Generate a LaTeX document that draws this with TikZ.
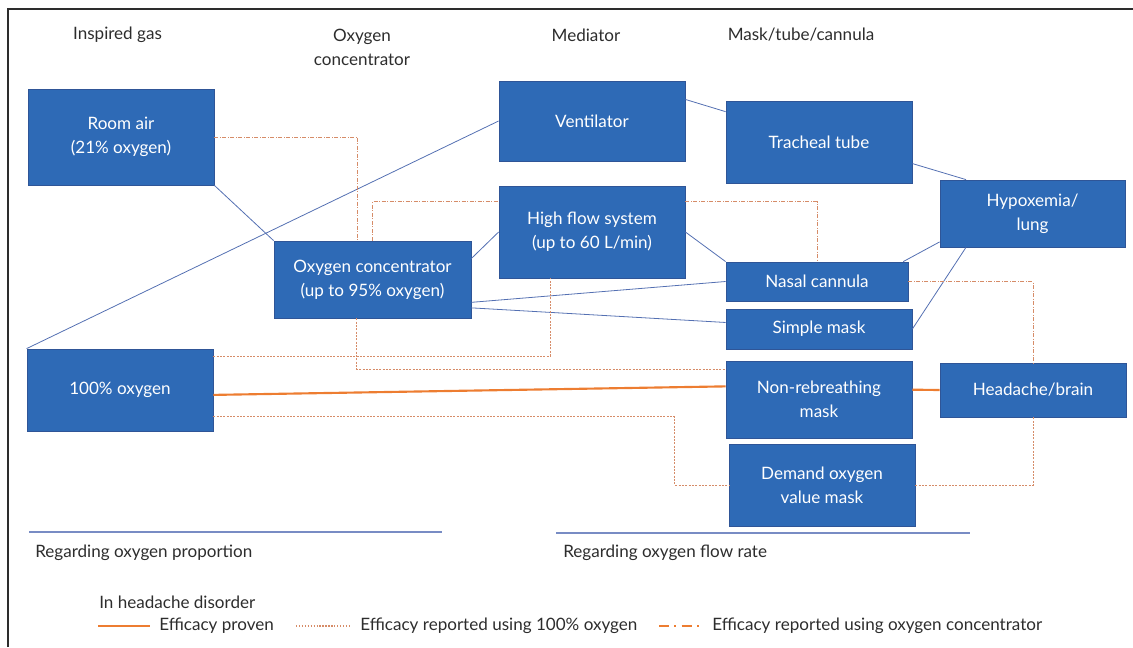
\documentclass[tikz,border=0pt]{standalone}
\usepackage{fontspec}
\setmainfont{Lato}
\definecolor{boxblue}{RGB}{46,106,182}
\definecolor{boxedge}{RGB}{47,85,151}
\definecolor{linkblue}{RGB}{84,112,178}
\definecolor{proven}{RGB}{237,125,49}
\definecolor{reported}{RGB}{214,140,104}
\definecolor{headgray}{RGB}{45,45,45}
\definecolor{rulegray}{RGB}{120,140,196}

\begin{document}
\begin{tikzpicture}[x=0.75pt, y=-0.75pt,
	box/.style={fill=boxblue, draw=boxedge, line width=0.6pt, text=white, align=center, inner sep=2pt, font=\fontsize{12.8}{18}\selectfont},
	head/.style={text=headgray, align=center, inner sep=0pt, font=\fontsize{12.8}{18}\selectfont},
	link/.style={draw=linkblue, line width=0.6pt},
	provenline/.style={draw=proven, line width=1.6pt},
	concline/.style={draw=reported, line width=0.6pt, dash pattern=on 3pt off 1.2pt on 0.6pt off 1.2pt},
	pureline/.style={draw=reported, line width=0.6pt, dash pattern=on 1.5pt off 1pt}]
{
	\useasboundingbox (0,0) rectangle (1133,647);
	\draw[headgray, line width=0.8pt] (8,647) -- (8,9) -- (1133,9);

	\node[head] (hgas) at (117.5,35) {Inspired gas};
	\node[head] (hconc) at (362,47) {Oxygen\\concentrator};
	\node[head] (hmed) at (586,35) {Mediator};
	\node[head] (hmask) at (801,35) {Mask/tube/cannula};

	\node[box, minimum width=139.5pt, minimum height=72pt] (roomair) at (121,137) {Room air\\(21\% oxygen)};
	\node[box, minimum width=139.5pt, minimum height=61.5pt] (oxy100) at (120,390) {100\% oxygen};
	\node[box, minimum width=147.75pt, minimum height=57.75pt] (oxyconc) at (372.5,279.5) {Oxygen concentrator\\(up to 95\% oxygen)};
	\node[box, minimum width=139.5pt, minimum height=60pt] (vent) at (592,121) {Ventilator};
	\node[box, minimum width=139.5pt, minimum height=69pt] (highflow) at (592,232) {High flow system\\(up to 60 L/min)};
	\node[box, minimum width=139.5pt, minimum height=61.5pt] (trach) at (819,142) {Tracheal tube};
	\node[box, minimum width=138.75pt, minimum height=50.25pt] (hypox) at (1032.5,213.5) {Hypoxemia/\\lung};
	\node[box, minimum width=136.5pt, minimum height=29.25pt] (nasal) at (817,281.5) {Nasal cannula};
	\node[box, minimum width=139.5pt, minimum height=30pt] (simple) at (819,329) {Simple mask};
	\node[box, minimum width=139.5pt, minimum height=57.75pt] (nonreb) at (819,399.5) {Non-rebreathing\\mask};
	\node[box, minimum width=139.5pt, minimum height=40.5pt] (headache) at (1033,390) {Headache/brain};
	\node[box, minimum width=139.5pt, minimum height=61.5pt] (demand) at (822,485) {Demand oxygen\\value mask};

	\draw[link] (roomair.south east) -- (oxyconc.north west);
	\draw[link] (oxy100.north west) -- (vent.west);
	\draw[link] (oxyconc.12) -- (highflow.west);
	\draw[link] (oxyconc.-13) -- (nasal.west);
	\draw[link] (oxyconc.-16) -- (simple.176);
	\draw[link] (highflow.east) -- (nasal.north west);
	\draw[link] (vent.13) -- (trach.162);
	\draw[link] (trach.-13) -- (hypox.153);
	\draw[link] (nasal.13) -- (hypox.197);
	\draw[link] (simple.east) -- (hypox.207);

	\draw[provenline] (oxy100.-3) -- (nonreb.172);
	\draw[provenline] (nonreb.6) -- (headache.west);

	\draw[concline] (roomair.east) -| (oxyconc.111);
	\draw[concline] (oxyconc.north) |- (highflow.162);
	\draw[concline] (highflow.18) -| (nasal.north);
	\draw[concline] (nasal.east) -| (headache.north);

	\draw[pureline] (oxy100.20) -| (highflow.-132);
	\draw[pureline] (oxyconc.-112) |- (nonreb.162);
	\draw[pureline] (oxy100.-16) -| ([xshift=-40.5pt]demand.west) -- (demand.west);
	\draw[pureline] (demand.east) -| (headache.south);

	\draw[rulegray, line width=0.8pt] (29,532) -- (442,532);
	\draw[rulegray, line width=0.8pt] (556,533) -- (970,533);
	\node[head, anchor=west] (propnote) at (35,553) {Regarding oxygen proportion};
	\node[head, anchor=west] (flownote) at (563,553) {Regarding oxygen flow rate};

	\node[head, anchor=west] (legtitle) at (99,602) {In headache disorder};
	\draw[provenline] (98,626) -- (150,626);
	\node[head, anchor=west] (legproven) at (159,626) {Efficacy proven};
	\draw[reported, line width=1.4pt, dash pattern=on 1pt off 1.2pt] (296,626) -- (349,626);
	\node[head, anchor=west] (legpure) at (360,626) {Efficacy reported using 100\% oxygen};
	\draw[proven, line width=1.6pt, dash pattern=on 7.5pt off 4pt on 1.5pt off 4pt] (659,626) -- (703,626);
	\node[head, anchor=west] (legconc) at (712,626) {Efficacy reported using oxygen concentrator};
}
\end{tikzpicture}
\end{document}
